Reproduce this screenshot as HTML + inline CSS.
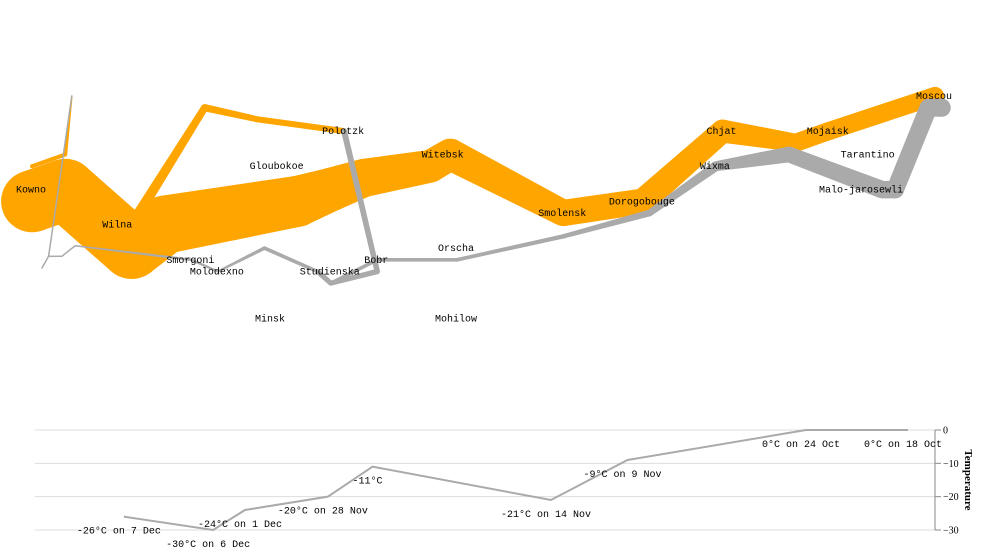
<!DOCTYPE html>
<html><head><meta charset="utf-8"><style>
body{margin:0;background:#fff}
svg{display:block}
text{font-family:"Liberation Mono",monospace;font-size:10px;fill:#000}
</style></head><body>
<svg id="chart" width="981" height="555" xmlns="http://www.w3.org/2000/svg">
<g id="map"></g>
<g id="cities"></g>
<g id="temp"></g>
</svg>
<script>
// troop path data
const adv1Lon=[24.0,24.5,25.5,26.0,27.0,28.0,28.5,29.0,30.0,30.3,32.0,33.2,34.4,35.5,36.0,37.6];
const adv1Lat=[54.9,55.0,54.5,54.7,54.8,54.9,55.0,55.1,55.2,55.3,54.8,54.9,55.5,55.4,55.5,55.8];
const adv1N=[340000,340000,340000,320000,300000,280000,240000,210000,180000,175000,145000,140000,127100,100000,100000,100000];
const ret1Lon=[37.7,37.5,37.0,36.8,35.4,34.3,33.3,32.0,30.4,29.2,28.5,28.3,27.5,26.8,26.4,24.65,24.45,24.25];
const ret1Lat=[55.7,55.7,55.0,55.0,55.3,55.2,54.8,54.6,54.4,54.4,54.2,54.3,54.5,54.3,54.4,54.52,54.43,54.43];
const ret1N=[100000,98000,97000,96000,87000,55000,37000,24000,20000,20000,20000,20000,20000,12000,14000,8000,4000,4000];
const adv2Lon=[24.0,24.5,25.5,26.6,27.4,28.7];
const adv2Lat=[55.1,55.2,54.7,55.7,55.6,55.5];
const adv2N=[60000,60000,60000,40000,33000,33000];
const ret2Lon=[28.7,29.2,28.5,28.3];
const ret2Lat=[55.5,54.3,54.2,54.3];
const ret2N=[33000,30000,28000,28000];
const adv3Lon=[24.0,24.5,24.6];
const adv3Lat=[55.2,55.3,55.8];
const adv3N=[22000,22000,6000];
const ret3Lon=[24.6,24.25,24.15];
const ret3Lat=[55.8,54.43,54.33];
const ret3N=[6000,6000,6000];
// cities
const cityNames=["Kowno","Wilna","Smorgoni","Molodexno","Gloubokoe","Minsk","Studienska","Polotzk","Bobr","Witebsk","Orscha","Mohilow","Smolensk","Dorogobouge","Wixma","Chjat","Mojaisk","Moscou","Tarantino","Malo-jarosewli"];
const cityLon=[24.0,25.3,26.4,26.8,27.7,27.6,28.5,28.7,29.2,30.2,30.4,30.4,32.0,33.2,34.3,34.4,36.0,37.6,36.6,36.5];
const cityLat=[55.0,54.7,54.4,54.3,55.2,53.9,54.3,55.5,54.4,55.3,54.5,53.9,54.8,54.9,55.2,55.5,55.5,55.8,55.3,55.0];
// temperature
const tempLon=[37.6,36.0,33.2,32.0,29.2,28.5,27.2,26.7,25.3];
const tempVal=[0,0,-9,-21,-11,-20,-24,-30,-26];
const tempLabels=["0°C on 18 Oct","0°C on 24 Oct","-9°C on 9 Nov","-21°C on 14 Nov","-11°C","-20°C on 28 Nov","-24°C on 1 Dec","-30°C on 6 Dec","-26°C on 7 Dec"];
const tempTicks=[0,-10,-20,-30];

const NS="http://www.w3.org/2000/svg";
const mx=lon=>32+(lon-24)*66.4;
const my=lat=>96+(55.8-lat)*117;
const w=n=>Math.max(1.5,n/5500);
const tx=lon=>908+(lon-37.6)*63.75;
const ty=t=>430-t*(100/30);
function mk(tag,attrs,parent){const e=document.createElementNS(NS,tag);for(const k in attrs)e.setAttribute(k,attrs[k]);parent.appendChild(e);return e;}
const map=document.getElementById('map');
function drawPath(lons,lats,ns,color,name){
  const g=mk('g',{fill:color},map);
  
  
  const n=lons.length;
  for(let i=0;i<n-1;i++){
    const x1=mx(lons[i]),y1=my(lats[i]),x2=mx(lons[i+1]),y2=my(lats[i+1]);
    const dx=x2-x1,dy=y2-y1,L=Math.hypot(dx,dy)||1;
    const nx=-dy/L,ny=dx/L;
    const a=w(ns[i])/2,b=w(ns[i+1])/2;
    const p=mk('polygon',{points:[[x1+nx*a,y1+ny*a],[x2+nx*b,y2+ny*b],[x2-nx*b,y2-ny*b],[x1-nx*a,y1-ny*a]].map(q=>q.join(',')).join(' ')},g);
    
    
  }
  for(let i=0;i<n;i++){
    const c=mk('circle',{cx:mx(lons[i]),cy:my(lats[i]),r:w(ns[i])/2},g);
    
    
  }
}
const OR="#FFA500",GR="#aaaaaa";
drawPath(adv1Lon,adv1Lat,adv1N,OR,'advance-group-1');
drawPath(adv2Lon,adv2Lat,adv2N,OR,'advance-group-2');
drawPath(adv3Lon,adv3Lat,adv3N,OR,'advance-group-3');
drawPath(ret1Lon,ret1Lat,ret1N,GR,'retreat-group-1');
drawPath(ret2Lon,ret2Lat,ret2N,GR,'retreat-group-2');
drawPath(ret3Lon,ret3Lat,ret3N,GR,'retreat-group-3');
const cities=document.getElementById('cities');
cityNames.forEach((c,i)=>{
  const t=mk('text',{x:mx(cityLon[i])-1,y:my(cityLat[i])+3,'text-anchor':'middle'},cities);
  t.textContent=c;
  
  
});
const temp=document.getElementById('temp');
tempTicks.forEach(v=>{
  const gl=mk('line',{x1:35,x2:935,y1:ty(v),y2:ty(v),stroke:'#ddd','stroke-width':1},temp);
  
  
  const tk=mk('line',{x1:935,x2:941,y1:ty(v),y2:ty(v),stroke:'#888','stroke-width':1},temp);
  
  
  const tl=mk('text',{x:943,y:ty(v)+3.5,style:'font-family:"Liberation Serif",serif;font-size:10px'},temp);
  tl.textContent=v===0?'0':'\u2212'+Math.abs(v);
  
  
});
const ax=mk('line',{x1:935,x2:935,y1:ty(0),y2:ty(-30),stroke:'#888','stroke-width':1},temp);


const tt=mk('text',{x:0,y:0,transform:'translate(965,480) rotate(90)','text-anchor':'middle',style:'font-family:"Liberation Serif",serif;font-size:11px;font-weight:bold'},temp);
tt.textContent='Temperature';


const pts=tempLon.map((l,i)=>tx(l)+','+ty(tempVal[i])).join(' ');
const pl=mk('polyline',{points:pts,fill:'none',stroke:'#aaa','stroke-width':2},temp);


tempLabels.forEach((s,i)=>{
  const t=mk('text',{x:tx(tempLon[i])-5,y:ty(tempVal[i])+17,'text-anchor':'middle'},temp);
  t.textContent=s;
  
  
});
</script>
</body></html>
